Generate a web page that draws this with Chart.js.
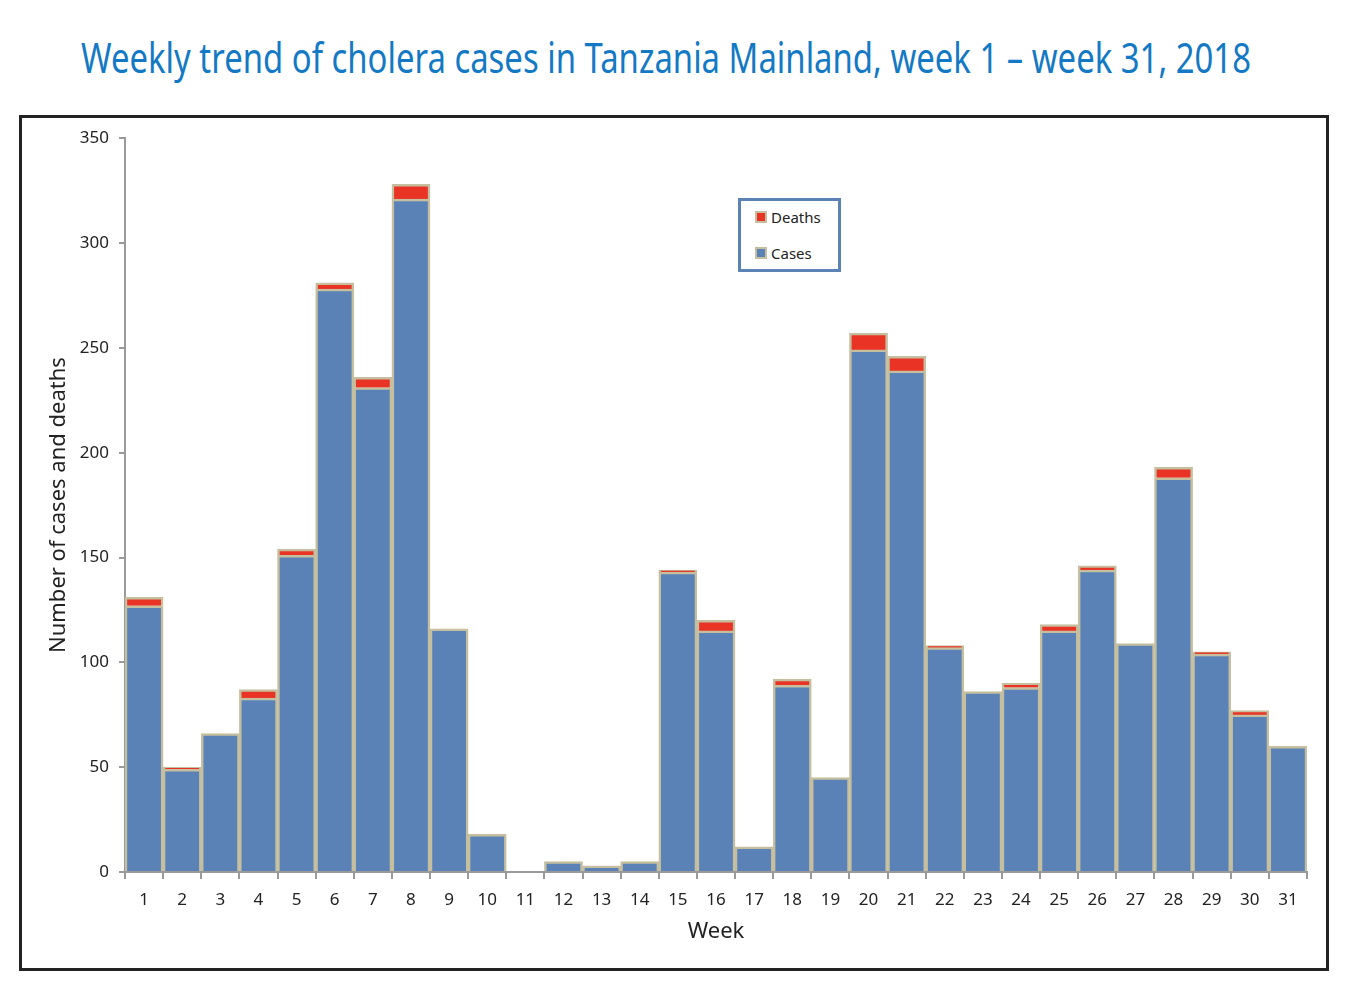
<!DOCTYPE html>
<html>
<head>
<meta charset="utf-8">
<script src="https://cdn.jsdelivr.net/npm/chart.js@4.4.1/dist/chart.umd.min.js"></script>
<style>
  body { margin: 0; background: #fff; width: 1354px; height: 1004px; overflow: hidden; position: relative; }
  #title { position: absolute; left: 666px; top: 28px; white-space: nowrap; transform-origin: 0 0;
    font-family: "Noto Sans", sans-serif; font-size: 42px; color: #1479c4; }
  #box { position: absolute; left: 19px; top: 115px; width: 1304px; height: 850px; border: 3px solid #222; }
  #legend { position: absolute; left: 716px; top: 80px; width: 97px; height: 68px; border: 3px solid #5b82b5;
    font-family: "Noto Sans", sans-serif; font-size: 15px; color: #222; background: #fff; }
  .item { position: absolute; left: 14px; display: flex; align-items: center; }
  .sw { width: 8px; height: 8px; border: 2px solid #c5bf9f; margin-right: 4px; }
</style>
</head>
<body>
<div id="title">Weekly trend of cholera cases in Tanzania Mainland, week 1 – week 31, 2018</div>
<div id="box">
  <canvas id="chart"></canvas>
  <div id="legend"></div>
</div>
<script>
const weeks = ['1','2','3','4','5','6','7','8','9','10','11','12','13','14','15','16','17','18','19','20','21','22','23','24','25','26','27','28','29','30','31'];
const cases = [127, 49, 66, 83, 151, 278, 231, 321, 116, 18, 0, 5, 3, 5, 143, 115, 12, 89, 45, 249, 239, 107, 86, 88, 115, 144, 109, 188, 104, 75, 60];
const deaths = [4, 1, 0, 4, 3, 3, 5, 7, 0, 0, 0, 0, 0, 0, 1, 5, 0, 3, 0, 8, 7, 1, 0, 2, 3, 2, 0, 5, 1, 2, 0];
const yTicks = [0, 50, 100, 150, 200, 250, 300, 350];

const tickFont = { family: 'Noto Sans', size: 17 };
const titleFont = { family: 'Noto Sans', size: 22 };

// titolo condensato: stringo il testo alla larghezza dell'originale
const titleEl = document.getElementById('title');
const sx = 1170 / titleEl.offsetWidth;
titleEl.style.transform = `scaleX(${sx}) translateX(-50%)`;

const datasets = [
    { label: 'Cases', data: cases, backgroundColor: '#5a82b6', borderColor: '#c5bf9f', borderWidth: 2.5 },
    { label: 'Deaths', data: deaths, backgroundColor: '#e83325', borderColor: '#c5bf9f', borderWidth: 2.5 }
];

const ctx = document.getElementById('chart').getContext('2d');
const chart = new Chart(ctx, {
    type: 'bar',
    data: { labels: weeks, datasets: datasets },
    options: {
        responsive: true,
        maintainAspectRatio: false,
        animation: false,
        layout: { padding: { left: 20, top: 18, right: 19, bottom: 19 } },
        datasets: { bar: { categoryPercentage: 1, barPercentage: 1 } },
        plugins: { legend: { display: false }, tooltip: { enabled: false } },
        scales: {
            x: {
                stacked: true,
                afterFit: s => { s.height = 77; },
                border: { color: '#9a9a9a', width: 2 },
                grid: { drawOnChartArea: false, drawTicks: true, tickLength: 7, color: '#9a9a9a', lineWidth: 2 },
                ticks: { color: '#222', font: tickFont, padding: 11, maxRotation: 0, autoSkip: false },
                title: { display: true, text: 'Week', color: '#222', font: titleFont }
            },
            y: {
                stacked: true,
                min: 0,
                max: 350,
                afterFit: s => { s.width = 83; },
                afterBuildTicks: s => { s.ticks = yTicks.map(v => ({ value: v })); },
                border: { color: '#9a9a9a', width: 2 },
                grid: { drawOnChartArea: false, drawTicks: true, tickLength: 6, color: '#9a9a9a', lineWidth: 2 },
                ticks: { color: '#222', font: tickFont, padding: 10 },
                title: { display: true, text: 'Number of cases and deaths', color: '#222', font: titleFont }
            }
        }
    }
});

// legenda: Deaths sopra Cases, come nell'originale
const legend = document.getElementById('legend');
datasets.slice().reverse().forEach((d, i) => {
    const item = document.createElement('div');
    item.className = 'item';
    item.style.top = (6 + i * 36) + 'px';
    item.innerHTML = `<span class="sw" style="background:${d.backgroundColor}"></span>${d.label}`;
    legend.appendChild(item);
});
</script>
</body>
</html>
